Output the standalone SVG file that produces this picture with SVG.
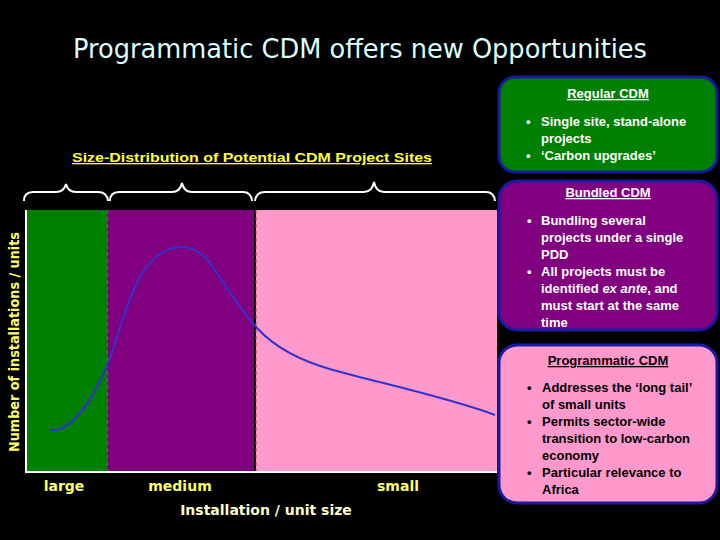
<svg xmlns="http://www.w3.org/2000/svg" width="720" height="540" viewBox="0 0 720 540">
<style>
.t{font-family:"Liberation Sans",Arial,sans-serif;font-weight:bold;font-size:13px}
.y{fill:#ffff66;font-family:"DejaVu Sans",sans-serif;font-weight:bold;font-size:14px}
.box{stroke:#1a1aa0;stroke-width:3}
.br{fill:none;stroke:#fff;stroke-width:2}
</style>
<rect width="720" height="540" fill="#000"/>
<text x="360" y="58" text-anchor="middle" fill="#ddffff" font-family="DejaVu Sans,sans-serif" font-size="26" textLength="574" lengthAdjust="spacingAndGlyphs">Programmatic CDM offers new Opportunities</text>
<text x="252" y="162" text-anchor="middle" fill="#ffff33" text-decoration="underline" class="t" font-size="14" textLength="360" lengthAdjust="spacingAndGlyphs">Size-Distribution of Potential CDM Project Sites</text>
<g id="chart">
<rect x="26" y="210" width="81" height="262" fill="#008000"/>
<rect x="107" y="210" width="148" height="262" fill="#800080"/>
<rect x="255" y="210" width="242" height="262" fill="#ff99cc"/>
<line x1="107.5" y1="210" x2="107.5" y2="472" stroke="#a0522d" stroke-dasharray="4,3"/>
<line x1="255" y1="210" x2="255" y2="472" stroke="#000" stroke-width="2"/>
<line x1="256" y1="210" x2="256" y2="472" stroke="#a0522d" stroke-dasharray="4,3"/>
<path d="M26,210V472H497" fill="none" stroke="#fff" stroke-width="2"/>
<path d="M50,430C70,432 90,405 107,366C125,320 135,250 180,247C195,247 205,254 215,270C235,300 245,315 257,328C268,340 290,358 333,370C380,383 450,398 495,415" fill="none" stroke="#3333cc" stroke-width="2"/>
<path class="br" d="M24,201Q24,192 33,192H56Q64,192 66,184Q68,192 76,192H98Q107,192 108,201"/>
<path class="br" d="M110,201Q110,192 119,192H172Q180,192 182,183Q184,192 192,192H243Q251,192 252,201"/>
<path class="br" d="M255,201Q256,192 265,192H364Q372,192 374,182Q376,192 384,192H486Q494,192 495,201"/>
<text x="64" y="491" text-anchor="middle" class="y">large</text>
<text x="180" y="491" text-anchor="middle" class="y">medium</text>
<text x="398" y="491" text-anchor="middle" class="y">small</text>
<text x="266" y="515" text-anchor="middle" class="y" style="fill:#ffffcc">Installation / unit size</text>
<text transform="translate(19,342) rotate(-90)" text-anchor="middle" class="y" textLength="220" lengthAdjust="spacingAndGlyphs" style="font-size:14px">Number of installations / units</text>
</g>
<g id="regular">
<rect class="box" x="499" y="77" width="218" height="95" rx="16" fill="#008000"/>
<text x="608" y="98" text-anchor="middle" class="t" fill="#fff" text-decoration="underline">Regular CDM</text>
<text class="t" fill="#fff"><tspan x="526" y="126">•</tspan><tspan x="541">Single site, stand-alone</tspan><tspan x="541" y="143">projects</tspan><tspan x="526" y="160">•</tspan><tspan x="541">‘Carbon upgrades’</tspan></text>
</g>
<g id="bundled">
<rect class="box" x="499" y="181" width="218" height="149" rx="18" fill="#800080"/>
<text x="608" y="197" text-anchor="middle" class="t" fill="#fff" text-decoration="underline">Bundled CDM</text>
<text class="t" fill="#fff"><tspan x="527" y="225">•</tspan><tspan x="541">Bundling several</tspan><tspan x="541" y="242">projects under a single</tspan><tspan x="541" y="259">PDD</tspan><tspan x="527" y="276">•</tspan><tspan x="541">All projects must be</tspan><tspan x="541" y="293">identified <tspan font-style="italic">ex ante</tspan>, and</tspan><tspan x="541" y="310">must start at the same</tspan><tspan x="541" y="327">time</tspan></text>
</g>
<g id="programmatic">
<rect class="box" x="499" y="345" width="218" height="158" rx="18" fill="#ff99cc"/>
<text x="608" y="365" text-anchor="middle" class="t" fill="#000" text-decoration="underline">Programmatic CDM</text>
<text class="t" fill="#000"><tspan x="527" y="392">•</tspan><tspan x="542">Addresses the ‘long tail’</tspan><tspan x="542" y="409">of small units</tspan><tspan x="527" y="426">•</tspan><tspan x="542">Permits sector-wide</tspan><tspan x="542" y="443">transition to low-carbon</tspan><tspan x="542" y="460">economy</tspan><tspan x="527" y="477">•</tspan><tspan x="542">Particular relevance to</tspan><tspan x="542" y="494">Africa</tspan></text>
</g>
</svg>
